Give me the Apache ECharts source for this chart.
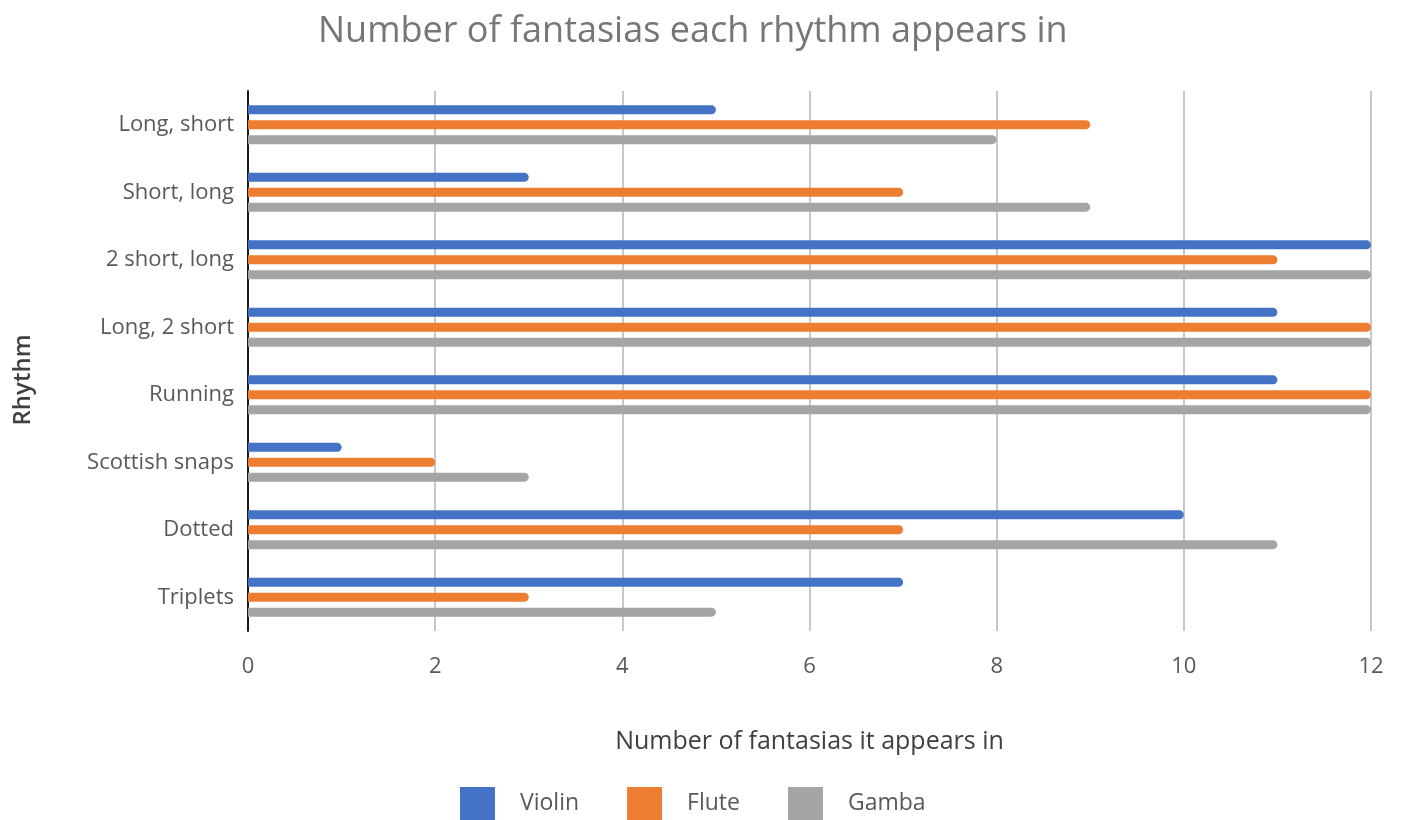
<!DOCTYPE html>
<html>
<head>
    <meta charset="utf-8">
    <title>Number of fantasias each rhythm appears in</title>
    <style type="text/css">
        html, body { margin: 0; padding: 0; background: #ffffff; }
        #main { width: 1402px; height: 820px; }
    </style>
</head>
<body>
    <div id="main"></div>
</body>
<script src="https://cdn.jsdelivr.net/npm/echarts@6/dist/echarts.min.js"></script>
<script type="text/javascript">
    var rhythms = ['Long, short', 'Short, long', '2 short, long', 'Long, 2 short', 'Running', 'Scottish snaps', 'Dotted', 'Triplets'];
    var violin = [5, 3, 12, 11, 11, 1, 10, 7];
    var flute = [9, 7, 11, 12, 12, 2, 7, 3];
    var gamba = [8, 9, 12, 12, 12, 3, 11, 5];
    var xTicks = [0, 2, 4, 6, 8, 10, 12];

    var font = '"Open Sans", "Noto Sans", sans-serif';

    function barSeries(name, values, color) {
        return {
            name: name,
            type: 'bar',
            data: values,
            barWidth: 9,
            barGap: '66%',
            itemStyle: { color: color, borderRadius: [0, 5, 5, 0] }
        };
    }

    var option = {
        backgroundColor: '#FFFFFF',
        textStyle: { fontFamily: font },
        title: {
            text: 'Number of fantasias each rhythm appears in',
            left: 313,
            top: 9,
            textStyle: { fontFamily: font, fontSize: 36, fontWeight: 'normal', color: '#767676' }
        },
        legend: {
            bottom: -5,
            left: 455,
            icon: 'rect',
            itemWidth: 35,
            itemHeight: 33,
            itemGap: 48,
            textStyle: { fontFamily: font, fontSize: 23, color: '#595959', padding: [0, 0, 0, 20] },
            data: ['Violin', 'Flute', 'Gamba']
        },
        grid: { left: 248, right: 31, top: 91, bottom: 189 },
        xAxis: {
            type: 'value',
            min: xTicks[0],
            max: xTicks[xTicks.length - 1],
            interval: 2,
            name: 'Number of fantasias it appears in',
            nameLocation: 'middle',
            nameGap: 98,
            nameTextStyle: { fontFamily: font, fontSize: 25, color: '#404040' },
            axisLine: { show: false },
            axisTick: { show: false },
            axisLabel: { fontFamily: font, fontSize: 22, color: '#595959', margin: 25 },
            splitLine: { lineStyle: { color: '#c8c8c8', width: 2 } }
        },
        yAxis: {
            type: 'category',
            inverse: true,
            data: rhythms,
            axisLine: { lineStyle: { color: '#1a1a1a', width: 2 } },
            axisTick: { show: false },
            axisLabel: { fontFamily: font, fontSize: 22, color: '#595959', margin: 14 }
        },
        graphic: [{
            type: 'text',
            x: 23,
            y: 380,
            rotation: Math.PI / 2,
            style: {
                text: 'Rhythm',
                font: '600 24px "Open Sans", sans-serif',
                fill: '#404040',
                textAlign: 'center',
                textVerticalAlign: 'middle'
            }
        }],
        series: [
            barSeries('Violin', violin, '#4472C4'),
            barSeries('Flute', flute, '#ED7D31'),
            barSeries('Gamba', gamba, '#A5A5A5')
        ]
    };

    var myChart = echarts.init(document.getElementById('main'));
    myChart.setOption(option);
</script>
</html>
